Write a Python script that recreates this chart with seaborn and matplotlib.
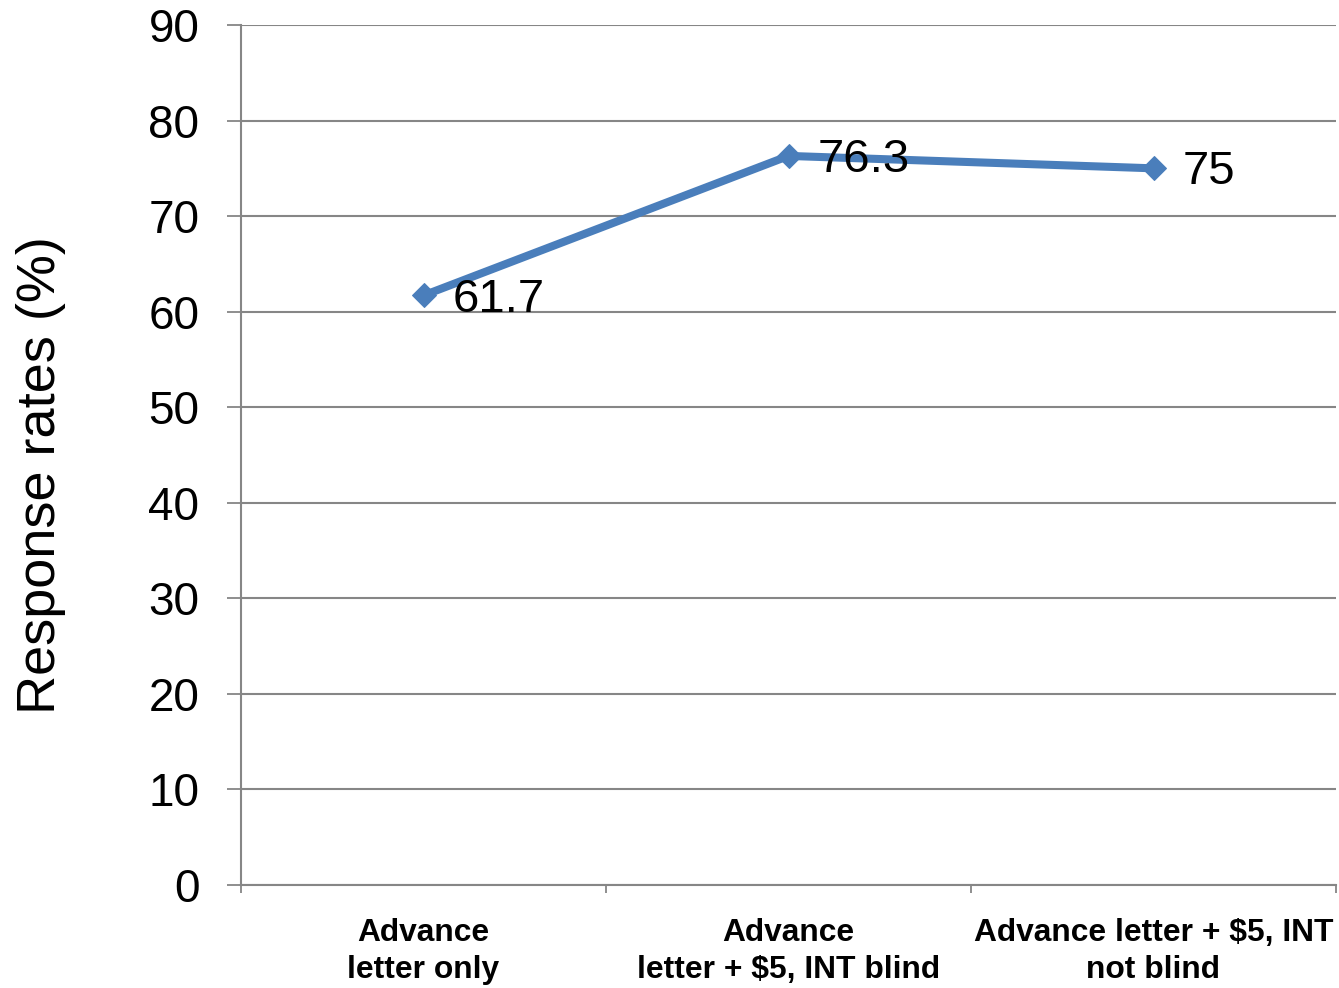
import matplotlib
matplotlib.use("Agg")
import matplotlib.pyplot as plt
import seaborn as sns
import pandas as pd

categories = ["Advance\nletter only",
              "Advance\nletter + $5, INT blind",
              "Advance letter + $5, INT\nnot blind"]
rates = [61.7, 76.3, 75]
value_labels = ["61.7", "76.3", "75"]
y_ticks = [0, 10, 20, 30, 40, 50, 60, 70, 80, 90]

sns.set_style("white")
plt.rcParams["font.family"] = ["Liberation Sans", "DejaVu Sans"]

df = pd.DataFrame({"pos": range(len(categories)), "rate": rates})

fig = plt.figure(figsize=(13.39, 9.88), dpi=100)
ax = fig.add_axes([241 / 1339, 103 / 988, 1095 / 1339, 860 / 988])

line_color = "#4A7EBB"
grid_color = "#868686"

sns.lineplot(data=df, x="pos", y="rate", ax=ax, color=line_color,
             linewidth=5.8, marker="D", markersize=12.5,
             markeredgecolor=line_color, zorder=3)

for i, (v, txt) in enumerate(zip(rates, value_labels)):
    ax.annotate(txt, (i, v), xytext=(21, -3), textcoords="offset points",
                ha="left", va="center", fontsize=34, color="black", zorder=4)

ax.set_xlim(-0.5, len(categories) - 0.5)
ax.set_ylim(0, 90)
ax.set_yticks(y_ticks)
ax.set_yticklabels([str(t) for t in y_ticks])
ax.set_xticks(range(len(categories)))
ax.set_xticklabels(categories, fontsize=22.9, fontweight="bold",
                   linespacing=1.28)
ax.set_xticks([i - 0.5 for i in range(len(categories) + 1)], minor=True)

ax.tick_params(axis="y", which="major", length=10, width=1.3, color=grid_color,
               labelsize=33, pad=20, labelcolor="black", left=True)
ax.tick_params(axis="x", which="major", length=0, pad=24, labelcolor="black")
ax.tick_params(axis="x", which="minor", length=6, width=1.3, color=grid_color,
               bottom=True)

ax.yaxis.grid(True, color=grid_color, linewidth=1.5)
ax.xaxis.grid(False)
ax.set_axisbelow(True)

for side in ["top", "right"]:
    ax.spines[side].set_visible(False)
for side in ["left", "bottom"]:
    ax.spines[side].set_color(grid_color)
    ax.spines[side].set_linewidth(1.5)

ax.set_xlabel("")
ax.set_ylabel("Response rates (%)", fontsize=39, color="black")
ax.yaxis.set_label_coords(-0.16, 0.477)

fig.savefig("out.png", dpi=100)
